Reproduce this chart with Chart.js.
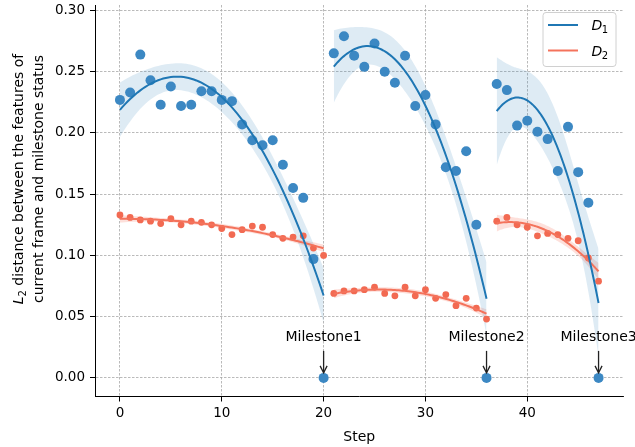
<!DOCTYPE html>
<html>
<head>
<meta charset="utf-8">
<title>L2 distance per step</title>
<script src="https://cdn.jsdelivr.net/npm/chart.js@4.4.1/dist/chart.umd.min.js"></script>
<style>
  body { margin: 0; background: #fff; }
  canvas { display: block; }
</style>
</head>
<body>
<canvas id="distChart" width="635" height="447"></canvas>
<script>
// steps, split into the three segments that end at a milestone
var stepsA = [0, 1, 2, 3, 4, 5, 6, 7, 8, 9, 10, 11, 12, 13, 14, 15, 16, 17, 18, 19, 20];
var stepsB = [21, 22, 23, 24, 25, 26, 27, 28, 29, 30, 31, 32, 33, 34, 35, 36];
var stepsC = [37, 38, 39, 40, 41, 42, 43, 44, 45, 46, 47];

// D1 values per segment (0 at the milestone step)
var d1A = [0.227, 0.233, 0.264, 0.243, 0.223, 0.238, 0.222, 0.223, 0.234, 0.234, 0.227,
           0.226, 0.207, 0.194, 0.190, 0.194, 0.174, 0.155, 0.147, 0.097, 0.000];
var d1B = [0.265, 0.279, 0.263, 0.254, 0.273, 0.250, 0.241, 0.263, 0.222, 0.231, 0.207,
           0.172, 0.169, 0.185, 0.125, 0.000];
var d1C = [0.240, 0.235, 0.206, 0.210, 0.201, 0.195, 0.169, 0.205, 0.168, 0.143, 0.000];

// D2 values per segment
var d2A = [0.133, 0.131, 0.129, 0.128, 0.126, 0.130, 0.125, 0.128, 0.127, 0.125, 0.122,
           0.117, 0.121, 0.124, 0.123, 0.117, 0.114, 0.115, 0.116, 0.106, 0.100];
var d2B = [0.069, 0.071, 0.071, 0.072, 0.074, 0.069, 0.067, 0.074, 0.067, 0.072, 0.065,
           0.068, 0.059, 0.065, 0.057, 0.048];
var d2C = [0.128, 0.131, 0.125, 0.123, 0.116, 0.118, 0.117, 0.114, 0.112, 0.098, 0.079];

var milestoneSteps = [20, 36, 47];
var milestoneLabels = ['Milestone1', 'Milestone2', 'Milestone3'];

var xTicks = [0, 10, 20, 30, 40];
var yTicks = [0, 0.05, 0.10, 0.15, 0.20, 0.25, 0.30];

var blueLine = '#1f77b4', bluePoint = '#3c88c3', blueBand = 'rgba(31,119,180,0.15)';
var redLine = '#f4735c', redPoint = '#f26a52', redBand = 'rgba(244,115,92,0.22)';

function inv3(m) {
    var a = m[0][0], b = m[0][1], c = m[0][2];
    var d = m[1][0], e = m[1][1], f = m[1][2];
    var g = m[2][0], h = m[2][1], i = m[2][2];
    var A = e * i - f * h, B = -(d * i - f * g), C = d * h - e * g;
    var det = a * A + b * B + c * C;
    return [
        [A / det, -(b * i - c * h) / det, (b * f - c * e) / det],
        [B / det, (a * i - c * g) / det, -(a * f - c * d) / det],
        [C / det, -(a * h - b * g) / det, (a * e - b * d) / det]
    ];
}

// order 2 least squares fit, with standard error of the fitted mean
function quadFit(xs, ys) {
    var x0 = xs.reduce(function (s, v) { return s + v; }, 0) / xs.length;
    var S = [[0, 0, 0], [0, 0, 0], [0, 0, 0]], v = [0, 0, 0];
    function row(x) { var t = x - x0; return [1, t, t * t]; }
    xs.forEach(function (x, k) {
        var r = row(x);
        for (var i = 0; i < 3; i++) {
            v[i] += r[i] * ys[k];
            for (var j = 0; j < 3; j++) S[i][j] += r[i] * r[j];
        }
    });
    var inv = inv3(S);
    var coef = inv.map(function (rw) { return rw[0] * v[0] + rw[1] * v[1] + rw[2] * v[2]; });
    function predict(x) { var r = row(x); return coef[0] * r[0] + coef[1] * r[1] + coef[2] * r[2]; }
    var rss = 0;
    xs.forEach(function (x, k) { var e = ys[k] - predict(x); rss += e * e; });
    var s2 = rss / (xs.length - 3);
    function se(x) {
        var r = row(x), q = 0;
        for (var i = 0; i < 3; i++) for (var j = 0; j < 3; j++) q += r[i] * inv[i][j] * r[j];
        return Math.sqrt(s2 * q);
    }
    return { predict: predict, se: se };
}

function fitDatasets(xs, ys, color, band) {
    var f = quadFit(xs, ys);
    var t = 1.6;
    var hi = [], lo = [], mid = [];
    var x1 = xs[0], x2 = xs[xs.length - 1];
    for (var k = 0; k <= 80; k++) {
        var x = x1 + (x2 - x1) * k / 80;
        var y = f.predict(x), w = t * f.se(x);
        mid.push({ x: x, y: y });
        hi.push({ x: x, y: y + w });
        lo.push({ x: x, y: y - w });
    }
    return [
        { type: 'line', data: hi, borderColor: 'transparent', borderWidth: 0, pointRadius: 0,
          fill: '+1', backgroundColor: band, order: 3 },
        { type: 'line', data: lo, borderColor: 'transparent', borderWidth: 0, pointRadius: 0,
          fill: false, order: 3 },
        { type: 'line', data: mid, borderColor: color, borderWidth: 2, pointRadius: 0,
          fill: false, order: 0 }
    ];
}

function toPoints(xs, ys) {
    return xs.map(function (x, i) { return { x: x, y: ys[i] }; });
}

var datasets = [
    { label: 'D1', data: toPoints(stepsA, d1A).concat(toPoints(stepsB, d1B), toPoints(stepsC, d1C)),
      backgroundColor: bluePoint, borderWidth: 0, pointRadius: 5, order: 1 },
    { label: 'D2', data: toPoints(stepsA, d2A).concat(toPoints(stepsB, d2B), toPoints(stepsC, d2C)),
      backgroundColor: redPoint, borderWidth: 0, pointRadius: 3.4, order: 1 }
];
[[stepsA, d1A], [stepsB, d1B], [stepsC, d1C]].forEach(function (s) {
    datasets = datasets.concat(fitDatasets(s[0], s[1], blueLine, blueBand));
});
[[stepsA, d2A], [stepsB, d2B], [stepsC, d2C]].forEach(function (s) {
    datasets = datasets.concat(fitDatasets(s[0], s[1], redLine, redBand));
});

var overlay = {
    id: 'overlay',
    afterDraw: function (chart) {
        var ctx = chart.ctx, xs = chart.scales.x, ys = chart.scales.y, area = chart.chartArea;

        // milestone annotations
        ctx.save();
        ctx.font = '14px "DejaVu Sans"';
        ctx.fillStyle = '#000';
        ctx.textAlign = 'center';
        ctx.textBaseline = 'middle';
        ctx.strokeStyle = '#222';
        ctx.lineWidth = 1.3;
        milestoneSteps.forEach(function (s, i) {
            var px = xs.getPixelForValue(s), py = ys.getPixelForValue(0);
            ctx.fillText(milestoneLabels[i], px, py - 41);
            ctx.beginPath();
            ctx.moveTo(px, py - 27);
            ctx.lineTo(px, py - 5);
            ctx.stroke();
            ctx.beginPath();
            ctx.moveTo(px - 3.5, py - 12);
            ctx.lineTo(px, py - 5);
            ctx.lineTo(px + 3.5, py - 12);
            ctx.stroke();
        });
        ctx.restore();

        // legend
        ctx.save();
        var bx = area.right - 80.5, by = area.top + 7.5, bw = 73, bh = 54;
        ctx.fillStyle = 'rgba(255,255,255,0.8)';
        ctx.strokeStyle = '#d0d0d0';
        ctx.lineWidth = 1;
        ctx.beginPath();
        ctx.roundRect(bx, by, bw, bh, 3);
        ctx.fill();
        ctx.stroke();
        [[blueLine, '1'], [redLine, '2']].forEach(function (e, i) {
            var cy = by + 12.5 + i * 25.5;
            ctx.strokeStyle = e[0];
            ctx.lineWidth = 2;
            ctx.beginPath();
            ctx.moveTo(bx + 5, cy);
            ctx.lineTo(bx + 35, cy);
            ctx.stroke();
            ctx.fillStyle = '#000';
            ctx.textBaseline = 'alphabetic';
            ctx.font = 'italic 14px "DejaVu Sans"';
            ctx.fillText('D', bx + 48.5, cy + 5.3);
            var w = ctx.measureText('D').width;
            ctx.font = '10px "DejaVu Sans"';
            ctx.fillText(e[1], bx + 48.5 + w - 0.5, cy + 8.3);
        });
        ctx.restore();

        // y axis title, two lines
        ctx.save();
        ctx.fillStyle = '#000';
        ctx.textBaseline = 'alphabetic';
        var yc = 179;
        ctx.translate(18, yc);
        ctx.rotate(-Math.PI / 2);
        var parts = [
            { t: 'L', f: 'italic 14px "DejaVu Sans"', dy: 0 },
            { t: '2', f: '10px "DejaVu Sans"', dy: 3 },
            { t: ' distance between the features of', f: '14px "DejaVu Sans"', dy: 0 }
        ];
        var total = 0;
        parts.forEach(function (p) { ctx.font = p.f; p.w = ctx.measureText(p.t).width; total += p.w; });
        var cx = -total / 2;
        parts.forEach(function (p) { ctx.font = p.f; ctx.fillText(p.t, cx, 5 + p.dy); cx += p.w; });
        ctx.font = '14px "DejaVu Sans"';
        ctx.textAlign = 'center';
        ctx.fillText('current frame and milestone status', 0, 25);
        ctx.restore();
    }
};

Chart.defaults.font.family = '"DejaVu Sans"';
Chart.defaults.color = '#000';

var ctx = document.getElementById('distChart').getContext('2d');
var distChart = new Chart(ctx, {
    type: 'scatter',
    data: { datasets: datasets },
    options: {
        responsive: false,
        animation: false,
        devicePixelRatio: 1,
        layout: { padding: { top: 2.5, right: 11.5, left: 0, bottom: 0 } },
        plugins: {
            legend: { display: false },
            tooltip: { enabled: false }
        },
        scales: {
            x: {
                type: 'linear',
                min: -2.45,
                max: 49.45,
                afterBuildTicks: function (s) { s.ticks = xTicks.map(function (v) { return { value: v }; }); },
                afterFit: function (s) { s.height = 50.5; s.paddingLeft = 0; s.paddingRight = 0; },
                ticks: { font: { size: 13.5 }, padding: 4, maxRotation: 0, callback: function (v) { return v; } },
                grid: { color: '#a8a8a8', lineWidth: 0.8, tickColor: '#000', tickLength: 5, tickWidth: 1 },
                border: { display: true, color: '#000', width: 1, dash: [2.5, 1.5] },
                title: { display: true, text: 'Step', font: { size: 14 }, padding: { top: 4, bottom: 1 } }
            },
            y: {
                type: 'linear',
                min: -0.0152,
                max: 0.3045,
                afterBuildTicks: function (s) { s.ticks = yTicks.map(function (v) { return { value: v }; }); },
                afterFit: function (s) { s.width = 95; s.paddingTop = 0; s.paddingBottom = 0; },
                ticks: { font: { size: 13.5 }, padding: 5, callback: function (v) { return v.toFixed(2); } },
                grid: { color: '#a8a8a8', lineWidth: 0.8, tickColor: '#000', tickLength: 5, tickWidth: 1 },
                border: { display: true, color: '#000', width: 1, dash: [2.5, 1.5] }
            }
        }
    },
    plugins: [overlay]
});
</script>
</body>
</html>
